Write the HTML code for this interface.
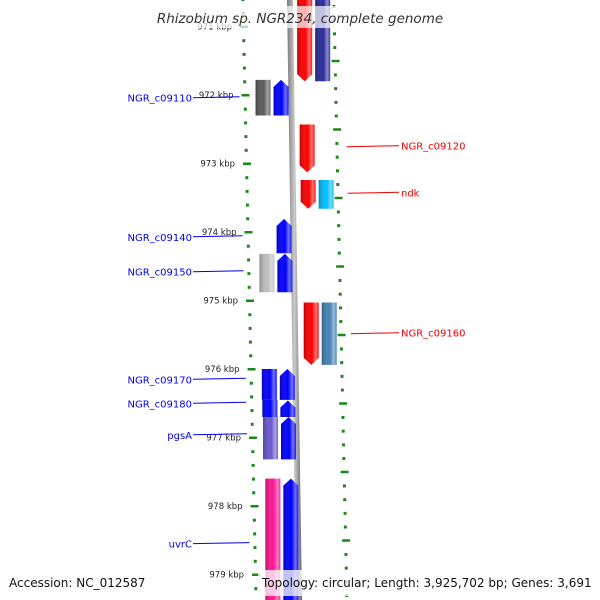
<!DOCTYPE html>
<html><head><meta charset="utf-8"><style>
body{margin:0;background:#fff;}
svg{display:block;font-family:"DejaVu Sans","Liberation Sans",sans-serif;}
</style></head><body>
<svg id="chart" width="600" height="600" viewBox="0 0 600 600">
<defs>
<linearGradient id="shine" x1="0" x2="1" y1="0" y2="0">
<stop offset="0" stop-color="#000" stop-opacity="0.25"/>
<stop offset="0.55" stop-color="#fff" stop-opacity="0"/>
<stop offset="0.8" stop-color="#fff" stop-opacity="0.45"/>
<stop offset="1" stop-color="#fff" stop-opacity="0.1"/>
</linearGradient>
<linearGradient id="bb" x1="0" x2="1"><stop offset="0" stop-color="#777"/><stop offset="0.5" stop-color="#ccc"/><stop offset="1" stop-color="#666"/></linearGradient>
</defs>
<g id="ticks"></g>
<g id="backbone"></g>
<g id="genes"></g>
<g id="labels"></g>
<rect x="152" y="6" width="296" height="22" fill="#fff" opacity="0.7"/>
<text x="300" y="23" text-anchor="middle" font-size="13.5" font-style="italic" fill="#333">Rhizobium sp. NGR234, complete genome</text>
<text x="9" y="587" font-size="12" fill="#111">Accession: NC_012587</text>
<rect x="258" y="570" width="342" height="26" fill="#fff" opacity="0.75"/>
<text x="262" y="587" font-size="12" fill="#111">Topology: circular; Length: 3,925,702 bp; Genes: 3,691</text>
</svg>
<script>
// gene data (kbp coordinates)
const geneStart = [970.5, 970.5, 971.78, 971.78, 972.43, 973.24, 973.24, 973.81, 974.32, 974.32, 975.03, 975.03, 976.0, 976.0, 976.45, 976.46, 976.7, 976.7, 977.6, 977.6];
const geneEnd   = [971.8, 971.8, 972.3, 972.3, 973.13, 973.66, 973.66, 974.31, 974.88, 974.88, 975.94, 975.94, 976.45, 976.45, 976.7, 976.7, 977.32, 977.32, 979.5, 979.5];
const geneLane  = [1, 2, -2, -1, 1, 1, 2, -1, -2, -1, 1, 2, -2, -1, -2, -1, -2, -1, -2, -1];
const geneStrand= [-1, 0, 0, 1, -1, -1, 0, 1, 0, 1, -1, 0, 0, 1, 0, 1, 0, 1, 0, 1];
const geneColor = ["#ff0000","#2a2a9a","#5a5a5a","#0000ff","#ff0000","#ff0000","#00bfff","#0000ff","#bdbdbd","#0000ff","#ff0000","#4682b4","#0000ff","#0000ff","#0000ff","#0000ff","#6a5acd","#0000ff","#ff1493","#0000ff"];
const kbpTicks = [971, 972, 973, 974, 975, 976, 977, 978, 979];
const labelNames = ["NGR_c09110","NGR_c09120","ndk","NGR_c09140","NGR_c09150","NGR_c09160","NGR_c09170","NGR_c09180","pgsA","uvrC"];
const labelPos = [972.04, 972.74, 973.42, 974.07, 974.58, 975.47, 976.15, 976.5, 976.96, 978.55];
const labelSide = [-1, 1, 1, -1, -1, 1, -1, -1, -1, -1];

const NS="http://www.w3.org/2000/svg";
const Y = k => 95 + (k - 972) * 68.5;
const drift = y => (y - 300) * 0.022;
function mk(tag, attrs, parent){const e=document.createElementNS(NS,tag);for(const a in attrs)e.setAttribute(a,attrs[a]);parent.appendChild(e);return e;}

const gT=document.getElementById('ticks');
for(let i=0;i<=46;i++){
  const kk=Math.round((970.6+i*0.2)*10)/10, y=Y(kk);
  const major=Math.abs(kk-Math.round(kk))<0.01;
  const lx=248+drift(y), rx=337+drift(y);
  const t=mk('rect',{x:major?lx-2:lx,y:y-1,width:major?8:3,height:major?2.5:3,fill:'#1a8a1a'},gT);
  
  
  const k2=Math.round((kk+0.1)*10)/10, yr=Y(k2);
  const rmaj=Math.abs((k2-0.5)-Math.round(k2-0.5))<0.01;
  const t2=mk('rect',{x:rmaj?rx:rx+2,y:yr-1,width:rmaj?8:3,height:rmaj?2.5:3,fill:'#1a8a1a'},gT);
  
  
}
kbpTicks.forEach(k=>{
  const y=Y(k);
  const t=mk('text',{x:238+drift(y),y:y+3,'font-size':8.5,'text-anchor':'end',fill:'#222'},gT);
  t.textContent=k+' kbp';
  
  
});

const gB=document.getElementById('backbone');
const bb=mk('polygon',{points:'287,0 293,0 302,600 296,600',fill:'url(#bb)'},gB);



const laneX={'-2':260,'-1':278,'1':303,'2':321};
const gG=document.getElementById('genes');
for(let i=0;i<geneStart.length;i++){
  const y1=Y(geneStart[i]), y2=Y(geneEnd[i]);
  const ym=(y1+y2)/2, x=laneX[geneLane[i]]+drift(ym), w=15;
  let pts;
  if(geneStrand[i]===1) pts=`${x},${y2} ${x},${y1+7} ${x+w/2},${y1} ${x+w},${y1+7} ${x+w},${y2}`;
  else if(geneStrand[i]===-1) pts=`${x},${y1} ${x+w},${y1} ${x+w},${y2-7} ${x+w/2},${y2} ${x},${y2-7}`;
  else pts=`${x},${y1} ${x+w},${y1} ${x+w},${y2} ${x},${y2}`;
  const g=mk('g',{},gG);
  
  
  mk('polygon',{points:pts,fill:geneColor[i]},g);
  mk('polygon',{points:pts,fill:'url(#shine)'},g);
}

const gL=document.getElementById('labels');
for(let i=0;i<labelNames.length;i++){
  const y=Y(labelPos[i]);
  const col=labelSide[i]<0?'#0000ee':'#ee0000';
  let t, l;
  if(labelSide[i]<0){
    t=mk('text',{x:192,y:y+4,'font-size':10,'text-anchor':'end',fill:col},gL);
    l=mk('line',{x1:193,y1:y,x2:244+drift(y),y2:y-1,stroke:col,'stroke-width':1},gL);
  } else {
    t=mk('text',{x:401,y:y+4,'font-size':10,fill:col},gL);
    l=mk('line',{x1:350+drift(y),y1:y+1,x2:399,y2:y,stroke:col,'stroke-width':1},gL);
  }
  t.textContent=labelNames[i];
  
  
  
  
}
</script>
</body></html>
